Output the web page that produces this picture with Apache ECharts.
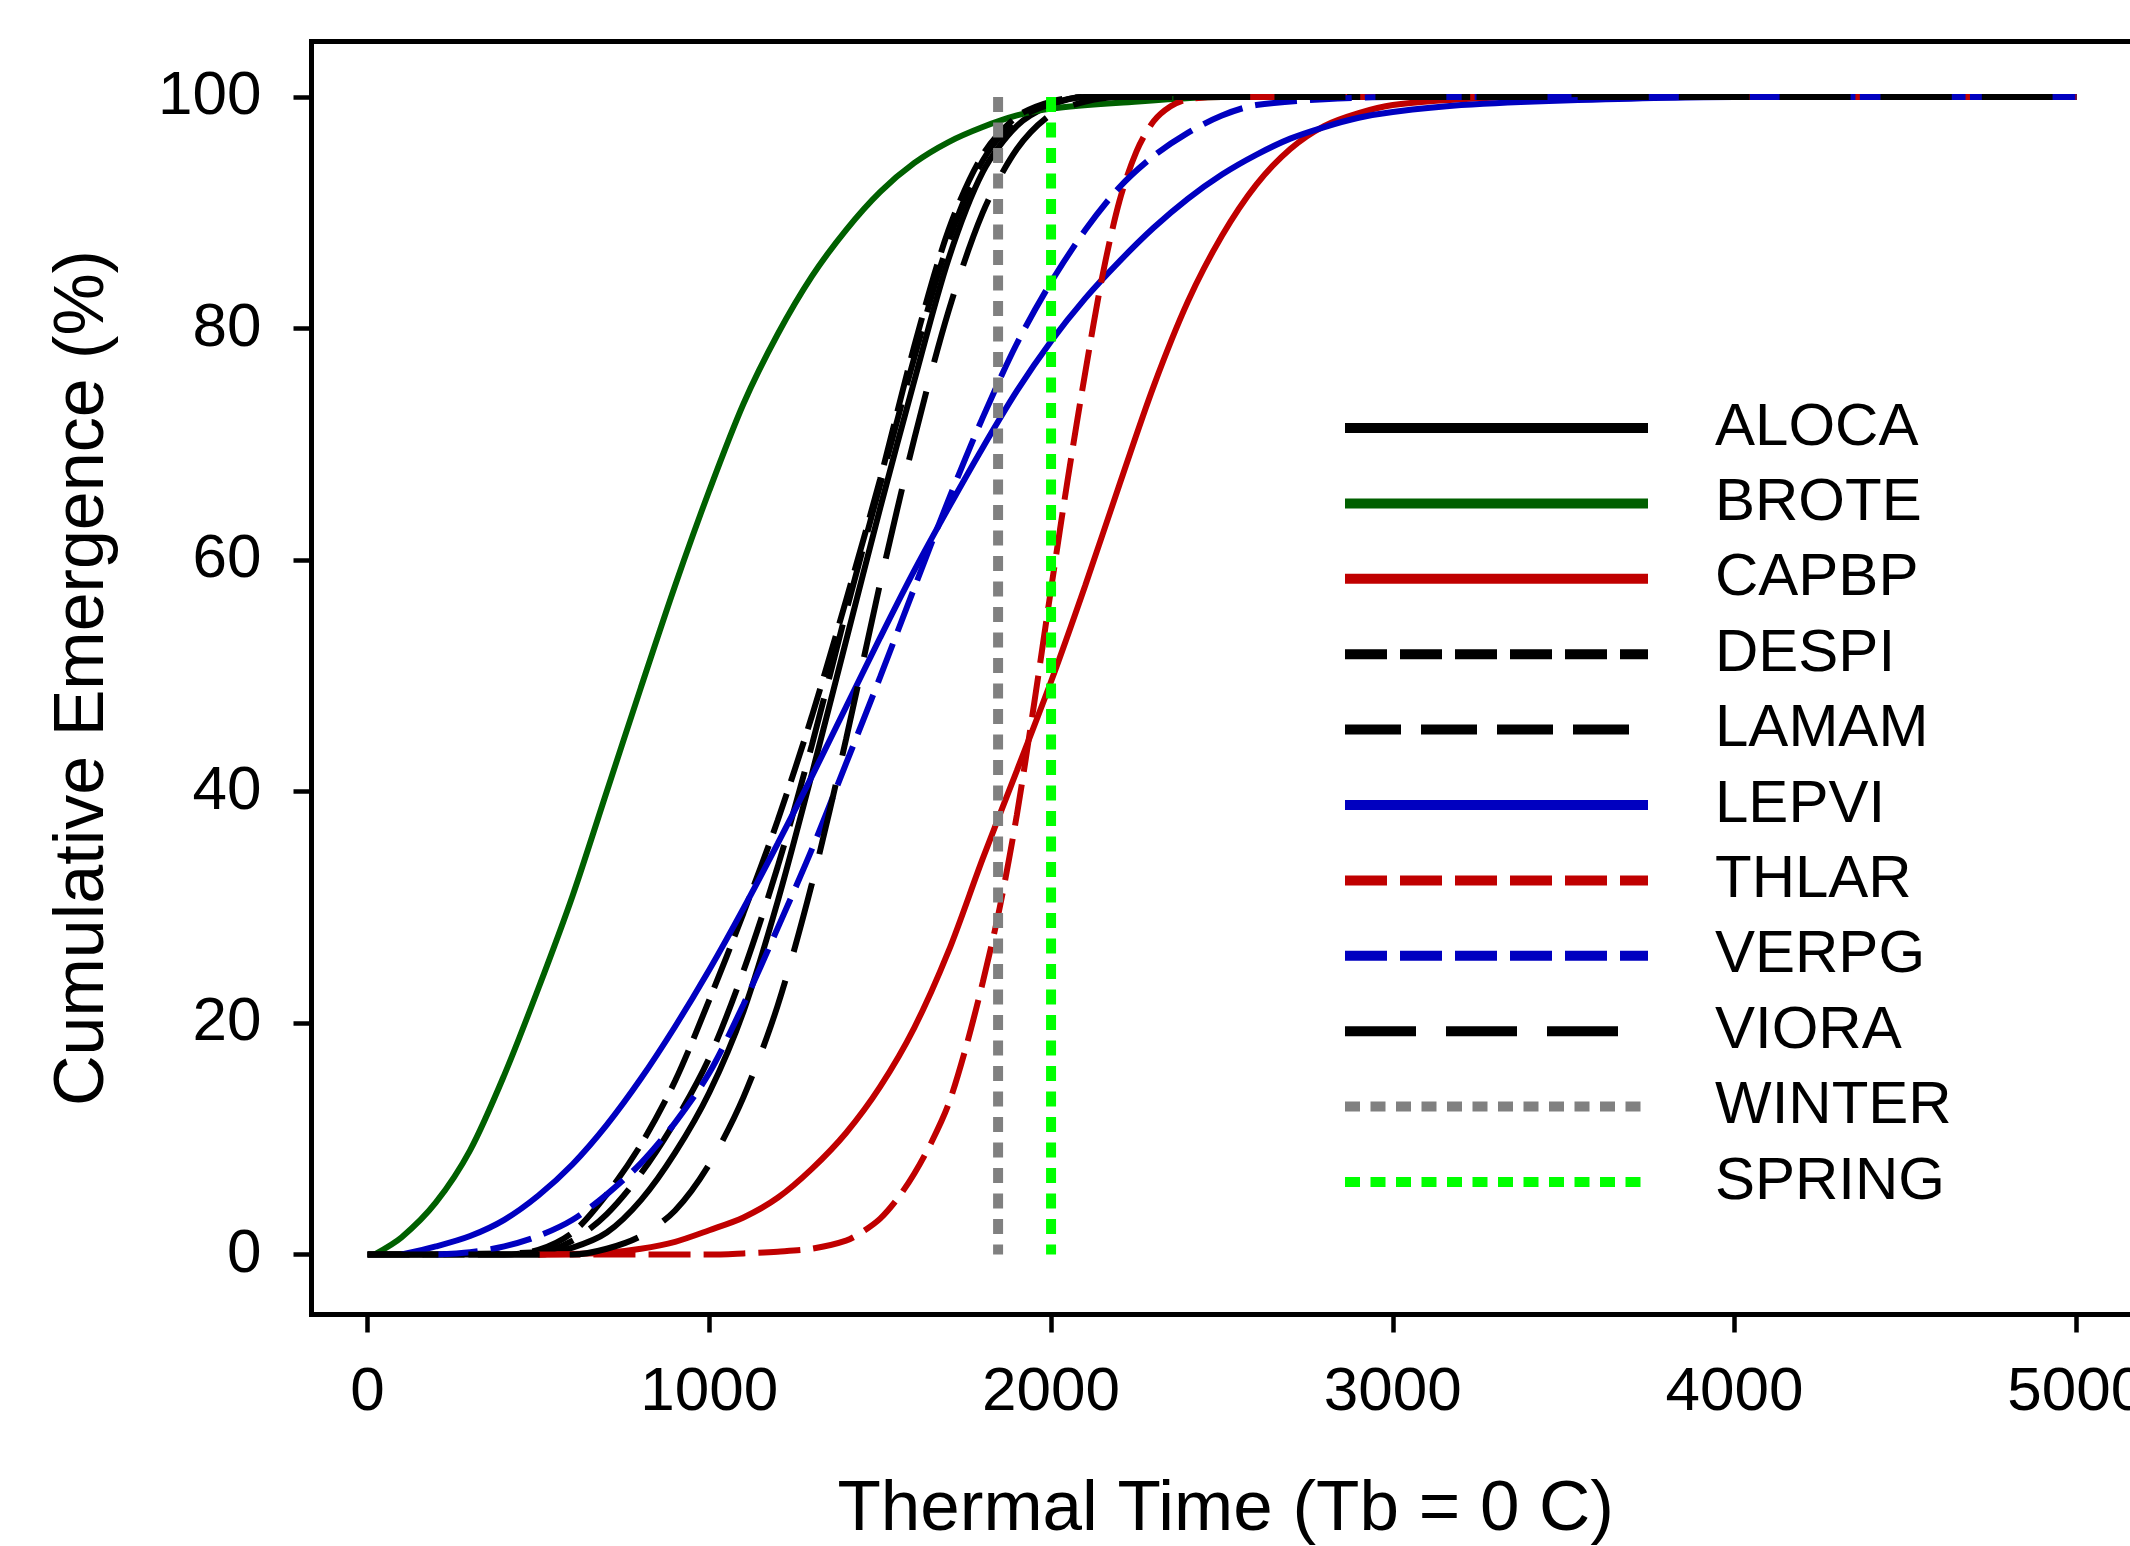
<!DOCTYPE html>
<html><head><meta charset="utf-8">
<script src="https://cdn.jsdelivr.net/npm/echarts@6/dist/echarts.min.js"></script>
<style>html,body{margin:0;padding:0;background:#fff;}#c{width:2130px;height:1546px;}</style>
</head><body><div id="c"></div>
<script>
const tickX = [0, 1000, 2000, 3000, 4000, 5000];
const tickY = [0, 20, 40, 60, 80, 100];

const ALOCA = [[0,0],[500,0],[600,0.6],[700,1.9],[800,4.7],[900,8.8],[1000,14],[1100,21],[1200,30.5],[1300,41.5],[1400,53],[1500,64.5],[1600,75.5],[1700,86],[1800,93.5],[1900,97.5],[2000,99.3],[2100,100],[5000,100]];
const BROTE = [[20,0],[100,1.5],[200,4.5],[300,9],[400,15.5],[500,23],[600,31],[700,40],[800,49],[900,57.8],[1000,66],[1100,73.5],[1200,79.5],[1300,84.5],[1400,88.5],[1500,91.8],[1600,94.3],[1700,96.1],[1800,97.4],[1900,98.4],[2000,99],[2200,99.5],[2500,100],[5000,100]];
const CAPBP = [[500,0],[600,0.05],[700,0.15],[800,0.5],[900,1.1],[1000,2.1],[1100,3.2],[1200,4.9],[1300,7.4],[1400,10.5],[1500,14.5],[1600,19.6],[1700,26.2],[1800,34.2],[1900,41.8],[2000,49.5],[2100,57.8],[2200,66.5],[2300,75],[2400,82.3],[2500,88],[2600,92.4],[2700,95.5],[2800,97.5],[2900,98.6],[3000,99.3],[3200,99.8],[3400,100],[5000,100]];
const DESPI = [[0,0],[400,0],[500,0.4],[600,1.9],[700,5.2],[800,9.5],[900,15],[1000,22],[1100,29.5],[1200,37.5],[1300,46.5],[1400,56.5],[1500,67],[1600,78.5],[1700,88.5],[1800,95],[1900,98.3],[2000,99.6],[2100,100],[5000,100]];
const LAMAM = [[0,0],[500,0.2],[600,1.2],[700,3.5],[800,7],[900,11.5],[1000,17],[1100,24.5],[1200,33.5],[1300,44],[1400,55.5],[1500,66.5],[1600,77.5],[1700,87.5],[1800,94.5],[1900,98],[2000,99.4],[2100,100],[5000,100]];
const LEPVI = [[100,0],[200,0.7],[300,1.6],[400,3],[500,5.1],[600,7.8],[700,11.2],[800,15.2],[900,19.7],[1000,24.6],[1100,29.9],[1200,35.5],[1300,41.3],[1400,47.3],[1500,53.3],[1600,59.1],[1700,64.5],[1800,69.7],[1900,74.6],[2000,78.9],[2100,82.6],[2200,85.8],[2300,88.7],[2400,91.2],[2500,93.3],[2600,95],[2700,96.4],[2800,97.4],[2900,98.2],[3000,98.7],[3200,99.3],[3500,99.7],[4000,100],[5000,100]];
const THLAR = [[500,0],[1000,0],[1100,0.1],[1200,0.25],[1300,0.5],[1400,1.2],[1450,2],[1500,3.1],[1550,4.8],[1600,7],[1650,9.7],[1700,13],[1750,17.8],[1800,23.5],[1850,30],[1900,38],[1950,47.5],[2000,57.5],[2050,67.2],[2100,76.2],[2150,84.5],[2200,91],[2250,95.3],[2300,97.9],[2350,99.2],[2400,99.8],[2500,100],[5000,100]];
const VERPG = [[200,0],[300,0.2],[400,0.7],[500,1.6],[600,3],[700,5.2],[800,7.9],[900,11.4],[1000,15.7],[1100,21.6],[1200,28.2],[1300,35],[1400,42.4],[1500,49.9],[1600,57.6],[1700,65.2],[1800,72.3],[1900,78.7],[2000,84],[2100,88.5],[2200,92.2],[2300,94.9],[2400,96.9],[2500,98.4],[2600,99.3],[2800,99.8],[3000,100],[5000,100]];
const VIORA = [[0,0],[600,0],[700,0.5],[800,1.6],[900,3.8],[1000,7.8],[1100,13.6],[1200,21.5],[1300,32],[1400,44.5],[1500,58],[1600,70.5],[1700,81.5],[1800,90],[1900,95.5],[2000,98.5],[2100,99.6],[2200,100],[5000,100]];
const WINTER = [[1845,100],[1845,0]];
const SPRING = [[2000,100],[2000,0]];

const FONT = 'Liberation Sans, Arial, sans-serif';
const defs = [
  {name:'ALOCA', data:ALOCA, color:'#000000', type:'solid', w:6},
  {name:'BROTE', data:BROTE, color:'#006000', type:'solid', w:6},
  {name:'CAPBP', data:CAPBP, color:'#c00000', type:'solid', w:6},
  {name:'DESPI', data:DESPI, color:'#000000', type:[42,13], w:6},
  {name:'LAMAM', data:LAMAM, color:'#000000', type:[56,20], w:6},
  {name:'LEPVI', data:LEPVI, color:'#0000c0', type:'solid', w:6},
  {name:'THLAR', data:THLAR, color:'#c00000', type:[42,13], w:6},
  {name:'VERPG', data:VERPG, color:'#0000c0', type:[42,13], w:6},
  {name:'VIORA', data:VIORA, color:'#000000', type:[71,30], w:6},
  {name:'WINTER', data:WINTER, color:'#808080', type:[15,10.5], w:10},
  {name:'SPRING', data:SPRING, color:'#00ff00', type:[15,10.5], w:10}
];

const series = defs.map(d => ({
  name: d.name, type: 'line', data: d.data,
  symbol: 'none', showSymbol: false,
  smooth: d.data.length > 2 ? 0.3 : false,
  color: d.color,
  lineStyle: {color: d.color, width: d.w, type: d.type, cap: 'butt'},
  animation: false
}));

const chart = echarts.init(document.getElementById('c'), null, {renderer: 'canvas'});
chart.setOption({
  backgroundColor: '#ffffff',
  animation: false,
  grid: {left: 311.5, top: 41.5, width: 1828.5, height: 1273, show: true, borderColor: '#000', borderWidth: 5, backgroundColor: 'transparent', containLabel: false, outerBoundsMode: 'none'},
  legend: {
    orient: 'vertical', left: 1340, top: 398, padding: 0,
    itemWidth: 303, itemHeight: 60, itemGap: 15.4,
    selectedMode: false,
    lineStyle: {width: 10},
    itemStyle: {opacity: 0, color: 'rgba(0,0,0,0)', borderWidth: 0},
    textStyle: {fontFamily: FONT, fontSize: 60, color: '#000', lineHeight: 60, padding: [0,0,0,62]},
    data: defs.map(d => d.name)
  },
  xAxis: {
    type: 'value', min: -164, max: 5186.3,
    name: 'Thermal Time (Tb = 0 C)', nameLocation: 'middle', nameGap: 160,
    nameTextStyle: {fontFamily: FONT, fontSize: 71, color: '#000'},
    axisLine: {show: true, onZero: false, lineStyle: {color: '#000', width: 5}},
    axisTick: {show: true, inside: false, length: 18, lineStyle: {color: '#000', width: 4.5}, customValues: tickX},
    axisLabel: {show: true, margin: 47, fontFamily: FONT, fontSize: 62, color: '#000', customValues: tickX, formatter: v => String(v)},
    splitLine: {show: false}
  },
  yAxis: {
    type: 'value', min: -5.18, max: 104.79,
    name: 'Cumulative Emergence (%)', nameLocation: 'middle', nameGap: 193, nameRotate: 90,
    nameTextStyle: {fontFamily: FONT, fontSize: 70, color: '#000'},
    axisLine: {show: true, onZero: false, lineStyle: {color: '#000', width: 5}},
    axisTick: {show: true, inside: false, length: 18, lineStyle: {color: '#000', width: 4.5}, customValues: tickY},
    axisLabel: {show: true, margin: 50, fontFamily: FONT, fontSize: 62, color: '#000', customValues: tickY, formatter: v => String(v)},
    splitLine: {show: false}
  },
  series: series
});
</script></body></html>
